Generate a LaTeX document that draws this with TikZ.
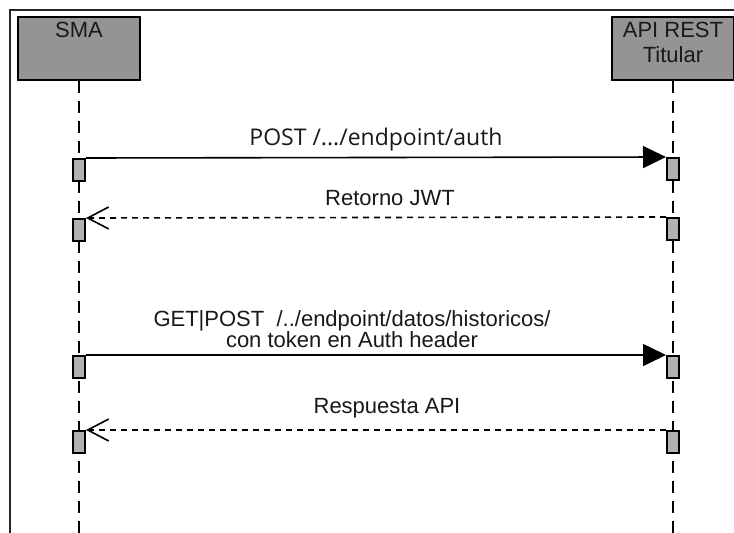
\documentclass[tikz,border=0pt]{standalone}
\usepackage{fontspec}
\setmainfont{Liberation Sans}
\newfontfamily\pathfont{Open Sans}
\usetikzlibrary{arrows.meta,positioning}

\begin{document}
\begin{tikzpicture}[x=1pt,y=-1pt,
  actor/.style={draw,line width=2pt,fill=black!42,minimum width=122pt,minimum height=63pt,anchor=north,inner sep=0pt},
  actlbl/.style={anchor=north,align=center,inner sep=0pt,yshift=-6pt,text=black!90,font=\fontsize{22}{25}\selectfont},
  act/.style={draw,line width=2pt,fill=black!30,minimum width=12pt,minimum height=22pt,anchor=north,inner sep=0pt},
  life/.style={line width=1.6pt,dash pattern=on 12pt off 8pt},
  call/.style={line width=1.6pt,-{Triangle[length=23pt,width=22pt]}},
  reply/.style={line width=1.6pt,dash pattern=on 6pt off 5pt,-{Straight Barb[length=21pt,width=22pt,line width=1.6pt]}},
  msglbl/.style={above=2pt,align=center,text=black!90,font=\fontsize{22}{21}\selectfont}]
  \useasboundingbox[fill=white] (0,0) rectangle (734,533);
  % frame
  \draw[line width=1.2pt,black!85] (10,10) rectangle (760,560);
  % lifelines
  \node[actor,label={[actlbl]north:SMA}] (sma) at (79,16) {};
  \node[actor,label={[actlbl]north:API REST\\Titular}] (api) at (673,16) {};
  \coordinate (smaend) at (79,533);
  \coordinate (apiend) at (673,533);
  \draw[life] (sma.south) -- (smaend);
  \draw[life] (api.south) -- (apiend);
  % activations
  \node[act] (s1) at (79,158) {};
  \node[act] (a1) at (673,157) {};
  \node[act] (s2) at (79,218) {};
  \node[act] (a2) at (673,217) {};
  \node[act] (s3) at (79,355) {};
  \node[act] (a3) at (673,355) {};
  \node[act] (s4) at (79,430) {};
  \node[act] (a4) at (673,430) {};
  % messages
  \draw[call] (s1.north east) -- (a1.north west)
    node[msglbl,midway,font=\pathfont\fontsize{23}{24}\selectfont] {POST /.../endpoint/auth};
  \draw[reply] (a2.north west) -- (s2.north east)
    node[msglbl,midway,xshift=14pt,above=8pt] {Retorno JWT};
  \draw[call] (s3.north east) -- (a3.north west)
    node[msglbl,midway,xshift=-24pt,above=3pt] {GET|POST \ /../endpoint/datos/historicos/\\con token en Auth header};
  \draw[reply] (a4.north west) -- (s4.north east)
    node[msglbl,midway,xshift=11pt,above=8pt] {Respuesta API};
\end{tikzpicture}
\end{document}
